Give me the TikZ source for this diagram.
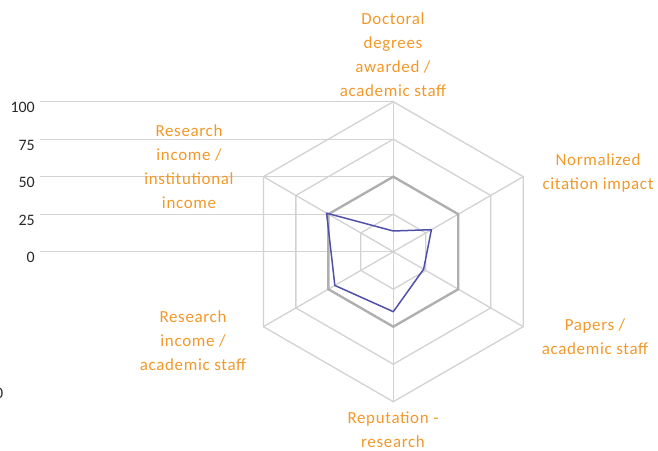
\documentclass[tikz,border=0pt]{standalone}
\usepackage{fontspec}
\setmainfont{Carlito}
\newfontfamily\lblfont[LetterSpace=4]{Carlito}
\usetikzlibrary{calc}
\definecolor{lblorange}{RGB}{242,152,40}
\definecolor{gridgray}{RGB}{210,210,210}
\definecolor{midgray}{RGB}{175,175,175}
\definecolor{axtext}{RGB}{40,40,40}
\definecolor{series}{RGB}{80,80,170}
\begin{document}
\begin{tikzpicture}[x=1bp,y=1bp,
  gridline/.style={draw=gridgray,line width=1.3bp},
  thickgrid/.style={draw=midgray,line width=2.4bp,line join=miter},
  hline/.style={draw=gridgray,line width=1.3bp},
  dataline/.style={draw=series,line width=1.5bp,line join=round},
  catlbl/.style={text=lblorange,align=center,font=\lblfont\fontsize{17}{24}\selectfont,inner sep=0pt},
  axlbl/.style={text=axtext,font=\fontsize{16}{18}\selectfont,inner sep=0pt,anchor=east}]
\useasboundingbox (0,0) rectangle (658,451);
\coordinate (C) at (393.3,199.3);
\foreach \i/\a in {1/90,2/30,3/-30,4/-90,5/210,6/150}{
  \coordinate (ga\i) at ($(C)+(\a:37.5)$);
  \coordinate (gb\i) at ($(C)+(\a:75)$);
  \coordinate (gc\i) at ($(C)+(\a:112.5)$);
  \coordinate (gd\i) at ($(C)+(\a:150)$);
}
% horizontal value lines
\coordinate (l100) at (40,349.3);
\coordinate (l75) at (40,311.8);
\coordinate (l50) at (40,274.3);
\coordinate (l25) at (40,236.8);
\coordinate (l0) at (40,199.3);
\foreach \n in {100,75,50,25,0}{
  \draw[hline] (l\n) -- (l\n -| C);
  \node[axlbl] (t\n) at ($(l\n)+(-5,-6)$) {\n};
}
\node[axlbl] (frag) at (3.5,58) {0};
% grid hexagons
\draw[gridline] (ga1) -- (ga2) -- (ga3) -- (ga4) -- (ga5) -- (ga6) -- cycle;
\draw[gridline] (gc1) -- (gc2) -- (gc3) -- (gc4) -- (gc5) -- (gc6) -- cycle;
\draw[gridline] (gd1) -- (gd2) -- (gd3) -- (gd4) -- (gd5) -- (gd6) -- cycle;
\foreach \i in {1,...,6}{ \draw[gridline] (C) -- (gd\i); }
\draw[thickgrid] (gb1) -- (gb2) -- (gb3) -- (gb4) -- (gb5) -- (gb6) -- cycle;
% data
\coordinate (d1) at ($(C)+(90:20.7)$);
\coordinate (d2) at ($(C)+(30:44)$);
\coordinate (d3) at ($(C)+(-30:35)$);
\coordinate (d4) at ($(C)+(-90:60)$);
\coordinate (d5) at ($(C)+(210:67.5)$);
\coordinate (d6) at ($(C)+(150:77)$);
\draw[dataline] (d1) -- (d2) -- (d3) -- (d4) -- (d5) -- (d6) -- cycle;
% category labels
\node[catlbl] (c1) at (393,396.5) {Doctoral\\degrees\\awarded /\\academic staff};
\node[catlbl] (c2) at (598,278) {Normalized\\citation impact};
\node[catlbl] (c3) at (595,114) {Papers /\\academic staff};
\node[catlbl] (c4) at (393,21.5) {Reputation -\\research};
\node[catlbl] (c5) at (193,110.5) {Research\\income /\\academic staff};
\node[catlbl] (c6) at (189,284.5) {Research\\income /\\institutional\\income};
\end{tikzpicture}
\end{document}
